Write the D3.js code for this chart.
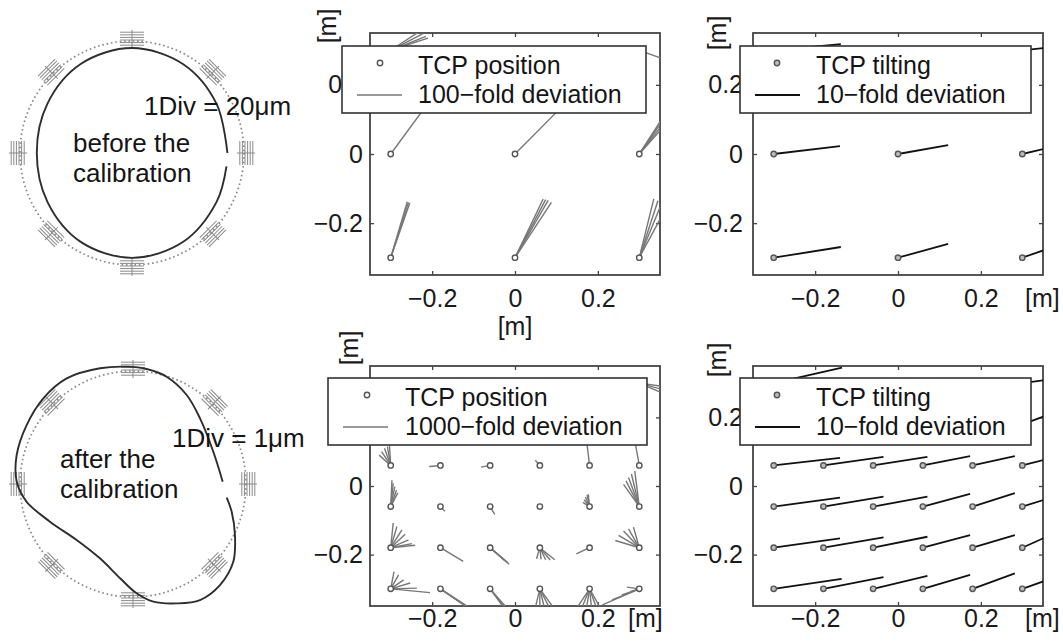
<!DOCTYPE html>
<html>
<head>
<meta charset="utf-8">
<script src="https://cdn.jsdelivr.net/npm/d3@7"></script>
<style>
  body { margin: 0; background: #fff; }
  svg { display: block; font-family: 'Liberation Sans', Arial, sans-serif; }
</style>
</head>
<body>
<div id="chart"></div>
<script>
// ---- data ----
const tickValues = [-0.2, 0, 0.2]
const tickLabels = ['\u22120.2', '0', '0.2']

const coarseGrid = [-0.3, 0, 0.3]
const coarseRows = [0.3, 0, -0.3]
const fineGrid = [-0.3, -0.18, -0.06, 0.06, 0.18, 0.3]
const fineRows = [0.3, 0.18, 0.06, -0.06, -0.18, -0.3]

// deviation vectors [dx, dy] per point (rows top to bottom, cols left to right)
const posDevBefore = [
  [[[0.07, 0.055], [0.078, 0.048], [0.085, 0.04], [0.09, 0.035]], [[0.06, 0.008]], [[0.07, -0.03]]],
  [[[0.095, 0.155]], [[0.12, 0.145]], [[0.07, 0.13], [0.075, 0.128], [0.082, 0.124], [0.088, 0.118]]],
  [[[0.04, 0.162], [0.043, 0.16], [0.046, 0.158]], [[0.068, 0.17], [0.074, 0.168], [0.08, 0.166], [0.088, 0.16]], [[0.035, 0.17], [0.045, 0.165], [0.055, 0.16], [0.065, 0.145]]]
]
const tiltDevBefore = [
  [[[0.162, 0.018]], [[0.12, 0.01]], [[0.1, 0.012]]],
  [[[0.16, 0.023]], [[0.121, 0.026]], [[0.1, 0.028]]],
  [[[0.162, 0.031]], [[0.121, 0.04]], [[0.1, 0.042]]]
]
const posDevAfter = [
  [[[-0.02, 0.01]], [[-0.015, 0.01]], [[-0.01, 0.005]], [[0.005, 0.01]], [[0.02, 0.01]], [[0.06, -0.01], [0.06, -0.02], [0.058, -0.03]]],
  [[[-0.02, 0.02]], [[-0.02, 0.005]], [[-0.015, 0]], [[-0.005, 0.01]], [[-0.005, 0.03]], [[-0.01, 0.03]]],
  [[[-0.028, 0.03], [-0.022, 0.04], [-0.015, 0.05], [-0.008, 0.055], [-0.003, 0.058]], [[-0.027, -0.003]], [[-0.022, -0.005]], [[-0.011, 0.015]], [[-0.008, 0.08]], [[-0.012, 0.08]]],
  [[[0.003, 0.077], [0.006, 0.068], [0.01, 0.058], [0.014, 0.048], [0.017, 0.04]], [[0.011, -0.014]], [[0.011, -0.023]], [[0.002, -0.002]],
   [[-0.016, 0.012], [-0.013, 0.02], [-0.01, 0.028], [-0.006, 0.034], [-0.003, 0.036]],
   [[-0.038, 0.065], [-0.032, 0.075], [-0.026, 0.085], [-0.019, 0.095], [-0.011, 0.104]]],
  [[[0.006, 0.072], [0.015, 0.062], [0.027, 0.052], [0.035, 0.039], [0.043, 0.023], [0.051, 0.012], [0.059, 0.007]], [[0.055, -0.04]],
   [[0.035, -0.037], [0.039, -0.041], [0.043, -0.044], [0.046, -0.048]],
   [[-0.008, -0.032], [0.003, -0.034], [0.014, -0.035], [0.025, -0.036], [0.036, -0.035]], [[-0.032, -0.018]],
   [[-0.058, 0.021], [-0.05, 0.036], [-0.038, 0.049], [-0.026, 0.055], [-0.014, 0.06]]],
  [[[0.008, 0.05], [0.019, 0.041], [0.031, 0.026], [0.047, 0.017], [0.063, 0.002], [0.095, -0.011]],
   [[0.06, -0.05], [0.065, -0.052], [0.07, -0.055]], [[0.03, -0.05], [0.035, -0.055], [0.04, -0.055]],
   [[-0.012, -0.06], [0, -0.06], [0.012, -0.06], [0.025, -0.06], [0.036, -0.06]],
   [[-0.033, -0.06], [-0.02, -0.06], [-0.008, -0.06], [0.005, -0.06], [0.018, -0.06], [0.028, -0.06]],
   [[-0.089, -0.047], [-0.066, -0.032], [-0.042, -0.018], [-0.022, -0.008], [-0.03, 0.005]]]
]
const tiltDevAfter = [
  [[[0.165, 0.045]], [[0.15, 0.012]], [[0.135, 0.01]], [[0.12, 0.01]], [[0.1, 0.01]], [[0.09, 0.015]]],
  [[[0.16, 0.02]], [[0.145, 0.02]], [[0.131, 0.02]], [[0.114, 0.022]], [[0.102, 0.022]], [[0.09, 0.04]]],
  [[[0.16, 0.022]], [[0.145, 0.025]], [[0.131, 0.025]], [[0.114, 0.027]], [[0.102, 0.027]], [[0.09, 0.028]]],
  [[[0.16, 0.026]], [[0.145, 0.029]], [[0.131, 0.029]], [[0.114, 0.037]], [[0.102, 0.039]], [[0.09, 0.034]]],
  [[[0.16, 0.027]], [[0.145, 0.03]], [[0.131, 0.032]], [[0.114, 0.037]], [[0.102, 0.037]], [[0.09, 0.049]]],
  [[[0.164, 0.029]], [[0.145, 0.034]], [[0.131, 0.038]], [[0.114, 0.041]], [[0.102, 0.045]], [[0.09, 0.039]]]
]

// circularity test (radius relative to the dotted reference circle)
const scaleAngles = [0, 45, 90, 135, 180, 225, 270, 315]
const beforeAngle = [0, 30, 60, 90, 120, 150, 180, 210, 240, 270, 300, 330, 352]
const beforeRadius = [0.852, 0.873, 0.915, 0.937, 0.917, 0.874, 0.85, 0.872, 0.916, 0.936, 0.915, 0.872, 0.852]
const afterAngle = [1.5, 21.9, 44.4, 58.9, 72.6, 83.2, 93.1, 105.9, 122.1, 136.3, 151, 166, 178.9, 189.5,
  204.4, 224.8, 246, 262.2, 271.9, 279.8, 290.1, 300, 310.7, 322.2, 333.4, 344.3, 351.7]
const afterRadius = [0.794, 0.766, 0.830, 0.920, 0.995, 1.025, 1.040, 1.065, 1.104, 1.098, 1.076, 1.061, 1.029, 0.954,
  0.807, 0.703, 0.720, 0.842, 0.968, 1.057, 1.125, 1.186, 1.180, 1.123, 1.009, 0.907, 0.838]

const W = 1063, H = 643
const svg = d3.select('#chart').append('svg').attr('width', W).attr('height', H)
svg.append('rect').attr('width', W).attr('height', H).attr('fill', '#fff')

// ---- polar plots ----
function drawPolar(cx, cy, R, angles, radii, scaleText, textX, textY, lines, lineX, lineY) {
  const g = svg.append('g').attr('transform', `translate(${cx},${cy})`)
  const rScale = d3.scaleLinear().domain([0, 1]).range([0, R])

  g.append('circle').attr('r', R)
    .attr('fill', 'none').attr('stroke', '#888').attr('stroke-width', 1.7)
    .attr('stroke-dasharray', '1.6 2.8')

  scaleAngles.forEach(a => {
    const m = g.append('g').attr('transform', `rotate(${-a})`)
      .attr('stroke', '#8a8a8a').attr('stroke-width', 1)
    d3.range(-2, 4).forEach(k => {
      m.append('line').attr('x1', R + 1 + k * 2.6).attr('x2', R + 1 + k * 2.6).attr('y1', -12).attr('y2', 12)
    })
    m.append('line').attr('x1', R - 7).attr('x2', R + 11).attr('y1', 0).attr('y2', 0)
  })

  const data = angles.map((a, i) => [a, radii[i]])
  const line = d3.lineRadial()
    .angle(d => (90 - d[0]) * Math.PI / 180)
    .radius(d => rScale(d[1]))
    .curve(d3.curveCatmullRom)
  g.append('path').attr('d', line(data))
    .attr('fill', 'none').attr('stroke', '#2e2e2e').attr('stroke-width', 1.9)

  svg.append('text').attr('x', textX).attr('y', textY).text(scaleText)
    .attr('font-size', 26).attr('fill', '#151515')
  lines.forEach((t, i) => {
    svg.append('text').attr('x', lineX).attr('y', lineY + i * 30).text(t)
      .attr('font-size', 26).attr('fill', '#151515')
  })
}

drawPolar(132, 153, 112, beforeAngle, beforeRadius, '1Div = 20\u03bcm', 144, 115, ['before the', 'calibration'], 73, 152)
drawPolar(133, 484, 113, afterAngle, afterRadius, '1Div = 1\u03bcm', 172, 447, ['after the', 'calibration'], 60, 468)

// ---- vector panels ----
const panels = [
  { id: 'p1', x0: 370, x1: 660, y0: 33, y1: 275, xs: coarseGrid, ys: coarseRows, dev: posDevBefore, dark: false,
    labPad: 14, yPad: 7, xLab: [515, 335, 'middle'], yLab: [330, 26],
    leg: [342, 46, 304, 67], legItems: ['TCP position', '100\u2212fold deviation'], legText: 418, legMark: 380, legLine: [357, 402] },
  { id: 'p2', x0: 753, x1: 1043, y0: 33, y1: 275, xs: coarseGrid, ys: coarseRows, dev: tiltDevBefore, dark: true,
    labPad: 14, yPad: 10, xLab: [1025, 307, 'start'], yLab: [720, 33],
    leg: [740, 46, 291, 67], legItems: ['TCP tilting', '10\u2212fold deviation'], legText: 816, legMark: 777, legLine: [755, 800] },
  { id: 'p3', x0: 370, x1: 660, y0: 366, y1: 606, xs: fineGrid, ys: fineRows, dev: posDevAfter, dark: false,
    labPad: 3, yPad: 7, xLab: [628, 627, 'start'], yLab: [352, 348],
    leg: [328, 378, 319, 67], legItems: ['TCP position', '1000\u2212fold deviation'], legText: 405, legMark: 367, legLine: [343, 388] },
  { id: 'p4', x0: 753, x1: 1043, y0: 366, y1: 606, xs: fineGrid, ys: fineRows, dev: tiltDevAfter, dark: true,
    labPad: 3, yPad: 10, xLab: [1025, 627, 'start'], yLab: [720, 360],
    leg: [740, 378, 291, 67], legItems: ['TCP tilting', '10\u2212fold deviation'], legText: 816, legMark: 777, legLine: [755, 800] }
]

const fmt = d => tickLabels[tickValues.indexOf(d)]

panels.forEach(p => {
  const x = d3.scaleLinear().domain([-0.35, 0.35]).range([p.x0, p.x1])
  const y = d3.scaleLinear().domain([-0.35, 0.35]).range([p.y1, p.y0])
  const lineColor = p.dark ? '#111' : '#777'
  const lineWidth = p.dark ? 1.8 : 1.4

  svg.append('clipPath').attr('id', 'clip-' + p.id)
    .append('rect').attr('x', p.x0).attr('y', p.y0).attr('width', p.x1 - p.x0).attr('height', p.y1 - p.y0)

  const styleAxis = g => {
    g.select('.domain').remove()
    g.attr('font-size', 25).attr('font-family', "'Liberation Sans', Arial, sans-serif").attr('color', '#1a1a1a')
    g.selectAll('line').attr('stroke', '#444').attr('stroke-width', 1.3)
  }
  svg.append('g').attr('transform', `translate(0,${p.y1})`)
    .call(d3.axisBottom(x).tickValues(tickValues).tickFormat(fmt).tickSizeInner(-4).tickPadding(p.labPad))
    .call(styleAxis)
  svg.append('g').attr('transform', `translate(0,${p.y0})`)
    .call(d3.axisTop(x).tickValues(tickValues).tickFormat('').tickSizeInner(-4))
    .call(styleAxis)
  svg.append('g').attr('transform', `translate(${p.x0},0)`)
    .call(d3.axisLeft(y).tickValues(tickValues).tickFormat(fmt).tickSizeInner(-4).tickPadding(p.yPad))
    .call(styleAxis)
  svg.append('g').attr('transform', `translate(${p.x1},0)`)
    .call(d3.axisRight(y).tickValues(tickValues).tickFormat('').tickSizeInner(-4))
    .call(styleAxis)

  svg.append('rect').attr('x', p.x0).attr('y', p.y0).attr('width', p.x1 - p.x0).attr('height', p.y1 - p.y0)
    .attr('fill', 'none').attr('stroke', '#444').attr('stroke-width', 1.8)

  // axis unit labels
  svg.append('text').attr('x', p.xLab[0]).attr('y', p.xLab[1]).attr('text-anchor', p.xLab[2])
    .attr('font-size', 25).attr('fill', '#1a1a1a').text('[m]')
  svg.append('text').attr('transform', `translate(${p.yLab[0] + 6},${p.yLab[1]}) rotate(-90)`)
    .attr('text-anchor', 'middle').attr('font-size', 25).attr('fill', '#1a1a1a').text('[m]')

  // deviation vectors
  const pts = []
  p.ys.forEach((yy, i) => p.xs.forEach((xx, j) => {
    pts.push({ x: xx, y: yy, devs: p.dev[i][j] })
  }))
  const plot = svg.append('g').attr('clip-path', `url(#clip-${p.id})`)
  plot.selectAll('g.pt').data(pts).join('g').attr('class', 'pt')
    .selectAll('line').data(d => d.devs.map(v => ({ x: d.x, y: d.y, dx: v[0], dy: v[1] })))
    .join('line')
    .attr('x1', d => x(d.x)).attr('y1', d => y(d.y))
    .attr('x2', d => x(d.x + d.dx)).attr('y2', d => y(d.y + d.dy))
    .attr('stroke', lineColor).attr('stroke-width', lineWidth)
  plot.selectAll('circle').data(pts).join('circle')
    .attr('cx', d => x(d.x)).attr('cy', d => y(d.y)).attr('r', 2.7)
    .attr('fill', p.dark ? '#bdbdbd' : '#fff').attr('stroke', '#555').attr('stroke-width', 1.4)

  // legend
  const [lx, ly, lw, lh] = p.leg
  const lg = svg.append('g')
  lg.append('rect').attr('x', lx).attr('y', ly).attr('width', lw).attr('height', lh)
    .attr('fill', '#fff').attr('stroke', '#333').attr('stroke-width', 1.6)
  lg.append('circle').attr('cx', p.legMark).attr('cy', ly + 17).attr('r', 2.7)
    .attr('fill', p.dark ? '#bdbdbd' : '#fff').attr('stroke', '#555').attr('stroke-width', 1.4)
  lg.append('line').attr('x1', p.legLine[0]).attr('x2', p.legLine[1]).attr('y1', ly + 49).attr('y2', ly + 49)
    .attr('stroke', lineColor).attr('stroke-width', lineWidth)
  p.legItems.forEach((t, i) => {
    lg.append('text').attr('x', p.legText).attr('y', ly + 28 + i * 29).text(t)
      .attr('font-size', 25).attr('fill', '#151515')
  })
})
</script>
</body>
</html>
